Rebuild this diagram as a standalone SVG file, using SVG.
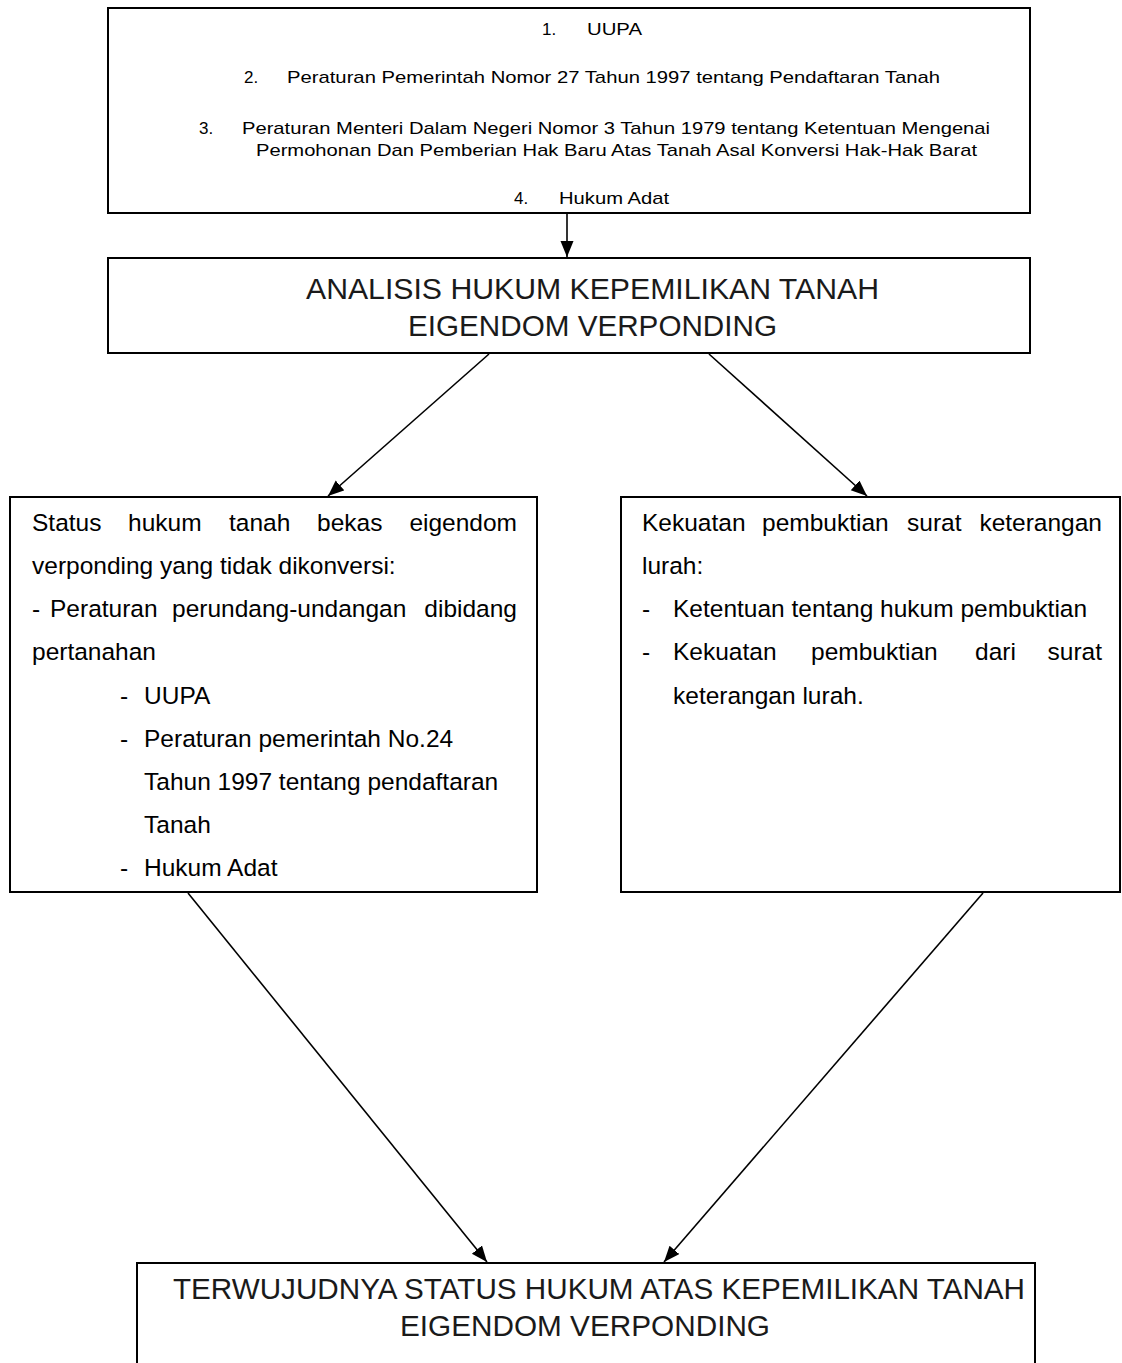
<svg xmlns="http://www.w3.org/2000/svg" width="1122" height="1363" viewBox="0 0 1122 1363">
<style>
.box{fill:#fff;stroke:#000;stroke-width:2}
.sm{font-family:"Liberation Sans",Arial,sans-serif;font-size:17px;fill:#000}
.ttl{font-family:"Liberation Sans",Arial,sans-serif;font-size:29px;fill:#1a1a1a}
.bd{font-family:"Liberation Sans",Arial,sans-serif;font-size:24.5px;fill:#000}
.con{stroke:#000;stroke-width:1.6;fill:none}
</style>
<defs>
<marker id="ah" markerUnits="userSpaceOnUse" markerWidth="18" markerHeight="14" refX="16" refY="6.5" orient="auto">
<path d="M0,0 L16,6.5 L0,13 Z" fill="#000"/>
</marker>
</defs>
<rect width="1122" height="1363" fill="#fff"/>
<g id="n1">
<rect class="box" x="108" y="8" width="922" height="205"/>
<text class="sm" x="542" y="35">1.</text>
<text class="sm" x="587" y="35" textLength="55" lengthAdjust="spacingAndGlyphs">UUPA</text>
<text class="sm" x="244" y="83">2.</text>
<text class="sm" x="287" y="83" textLength="653" lengthAdjust="spacingAndGlyphs">Peraturan Pemerintah Nomor 27 Tahun 1997 tentang Pendaftaran Tanah</text>
<text class="sm" x="199" y="134">3.</text>
<text class="sm" x="242" y="134" textLength="748" lengthAdjust="spacingAndGlyphs">Peraturan Menteri Dalam Negeri Nomor 3 Tahun 1979 tentang Ketentuan Mengenai</text>
<text class="sm" x="256" y="156" textLength="721" lengthAdjust="spacingAndGlyphs">Permohonan Dan Pemberian Hak Baru Atas Tanah Asal Konversi Hak-Hak Barat</text>
<text class="sm" x="514" y="204">4.</text>
<text class="sm" x="559" y="204" textLength="110" lengthAdjust="spacingAndGlyphs">Hukum Adat</text>
</g>
<g id="n2">
<rect class="box" x="108" y="258" width="922" height="95"/>
<text class="ttl" x="306" y="299" textLength="573" lengthAdjust="spacingAndGlyphs">ANALISIS HUKUM KEPEMILIKAN TANAH</text>
<text class="ttl" x="408" y="336" textLength="369" lengthAdjust="spacingAndGlyphs">EIGENDOM VERPONDING</text>
</g>
<g id="n3">
<rect class="box" x="10" y="497" width="527" height="395"/>
<text class="bd" x="32" y="531">Status</text>
<text class="bd" x="128" y="531">hukum</text>
<text class="bd" x="229" y="531">tanah</text>
<text class="bd" x="317" y="531">bekas</text>
<text class="bd" x="517" y="531" text-anchor="end">eigendom</text>
<text class="bd" x="32" y="574">verponding yang tidak dikonversi:</text>
<text class="bd" x="32" y="617">-</text>
<text class="bd" x="50" y="617">Peraturan</text>
<text class="bd" x="172" y="617">perundang-undangan</text>
<text class="bd" x="517" y="617" text-anchor="end">dibidang</text>
<text class="bd" x="32" y="660">pertanahan</text>
<text class="bd" x="120" y="704">-</text>
<text class="bd" x="144" y="704">UUPA</text>
<text class="bd" x="120" y="747">-</text>
<text class="bd" x="144" y="747">Peraturan pemerintah No.24</text>
<text class="bd" x="144" y="790">Tahun 1997 tentang pendaftaran</text>
<text class="bd" x="144" y="833">Tanah</text>
<text class="bd" x="120" y="876">-</text>
<text class="bd" x="144" y="876">Hukum Adat</text>
</g>
<g id="n4">
<rect class="box" x="621" y="497" width="499" height="395"/>
<text class="bd" x="642" y="531">Kekuatan</text>
<text class="bd" x="762" y="531">pembuktian</text>
<text class="bd" x="907" y="531">surat</text>
<text class="bd" x="1102" y="531" text-anchor="end">keterangan</text>
<text class="bd" x="642" y="574">lurah:</text>
<text class="bd" x="642" y="617">-</text>
<text class="bd" x="673" y="617">Ketentuan tentang hukum pembuktian</text>
<text class="bd" x="642" y="660">-</text>
<text class="bd" x="673" y="660">Kekuatan</text>
<text class="bd" x="811" y="660">pembuktian</text>
<text class="bd" x="975" y="660">dari</text>
<text class="bd" x="1102" y="660" text-anchor="end">surat</text>
<text class="bd" x="673" y="704">keterangan lurah.</text>
</g>
<g id="n5">
<rect class="box" x="137" y="1263" width="898" height="120"/>
<text class="ttl" x="173" y="1299" textLength="852" lengthAdjust="spacingAndGlyphs">TERWUJUDNYA STATUS HUKUM ATAS KEPEMILIKAN TANAH</text>
<text class="ttl" x="400" y="1336" textLength="370" lengthAdjust="spacingAndGlyphs">EIGENDOM VERPONDING</text>
</g>
<g id="connectors">
<line class="con" x1="567" y1="213" x2="567" y2="257" marker-end="url(#ah)"/>
<line class="con" x1="489" y1="354" x2="328" y2="496" marker-end="url(#ah)"/>
<line class="con" x1="709" y1="354" x2="867" y2="496" marker-end="url(#ah)"/>
<line class="con" x1="188" y1="893" x2="487" y2="1262" marker-end="url(#ah)"/>
<line class="con" x1="983" y1="893" x2="664" y2="1262" marker-end="url(#ah)"/>
</g>
</svg>
